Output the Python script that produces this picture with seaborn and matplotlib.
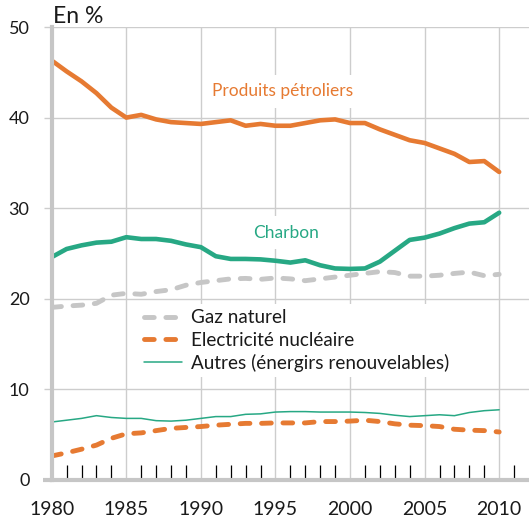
import numpy as np
import pandas as pd
import seaborn as sns
import matplotlib
matplotlib.use('Agg')
import matplotlib.pyplot as plt

years = list(range(1980, 2011))

petrole = [46.3, 45.1, 44.0, 42.7, 41.1, 40.0, 40.3, 39.8, 39.5, 39.4,
           39.3, 39.5, 39.7, 39.1, 39.3, 39.1, 39.1, 39.4, 39.7, 39.8,
           39.4, 39.4, 38.7, 38.1, 37.5, 37.2, 36.6, 36.0, 35.1, 35.2,
           34.0]
charbon = [24.6, 25.5, 25.9, 26.2, 26.3, 26.8, 26.6, 26.6, 26.4, 26.0,
           25.7, 24.7, 24.4, 24.4, 24.35, 24.2, 24.0, 24.25, 23.7, 23.35,
           23.3, 23.35, 24.1, 25.3, 26.5, 26.75, 27.2, 27.8, 28.3, 28.45,
           29.5]
gaz = [19.05, 19.2, 19.3, 19.5, 20.4, 20.6, 20.5, 20.8, 21.0, 21.5,
       21.8, 22.0, 22.2, 22.25, 22.15, 22.3, 22.2, 22.0, 22.2, 22.4,
       22.6, 22.8, 23.0, 22.9, 22.5, 22.5, 22.6, 22.8, 22.95, 22.55,
       22.7]
nucleaire = [2.65, 3.0, 3.4, 3.85, 4.6, 5.1, 5.2, 5.45, 5.7, 5.8,
             5.9, 6.05, 6.15, 6.25, 6.25, 6.3, 6.3, 6.3, 6.45, 6.45,
             6.5, 6.6, 6.45, 6.2, 6.05, 6.0, 5.9, 5.6, 5.5, 5.45,
             5.3]
autres = [6.4, 6.6, 6.8, 7.1, 6.9, 6.8, 6.8, 6.55, 6.5, 6.6,
          6.8, 7.0, 7.0, 7.25, 7.3, 7.5, 7.55, 7.55, 7.5, 7.5,
          7.5, 7.45, 7.35, 7.15, 7.0, 7.1, 7.2, 7.1, 7.45, 7.65,
          7.75]

x_major = list(range(1980, 2011, 5))
x_minor = [y for y in range(1981, 2012) if y % 5 != 0]
y_major = list(range(0, 51, 10))

orange = '#E67A32'
vert = '#27A884'
gris = '#C6C6C6'
grille = '#CDCDCD'

sns.set_style('white')
plt.rcParams['font.family'] = ['Lato', 'DejaVu Sans']

df = pd.DataFrame({'annee': years, 'petrole': petrole, 'charbon': charbon,
                   'gaz': gaz, 'nucleaire': nucleaire, 'autres': autres})

fig = plt.figure(figsize=(5.29, 5.22), dpi=100)
ax = fig.add_axes([51.7/529, 1-480/522, 1-51.7/529, (480-27)/522])

sns.lineplot(data=df, x='annee', y='petrole', ax=ax, color=orange, lw=3.3,
             solid_capstyle='round')
sns.lineplot(data=df, x='annee', y='charbon', ax=ax, color=vert, lw=3.3,
             solid_capstyle='round')
sns.lineplot(data=df, x='annee', y='gaz', ax=ax, color=gris, lw=3.5,
             label='Gaz naturel')
sns.lineplot(data=df, x='annee', y='nucleaire', ax=ax, color=orange, lw=3.5,
             label='Electricité nucléaire')
sns.lineplot(data=df, x='annee', y='autres', ax=ax, color=vert, lw=1.1,
             label='Autres (énergirs renouvelables)')

for ln in ax.lines[2:4]:
    ln.set_dashes((2.0, 2.4))
    ln.set_dash_capstyle('round')

ax.set_xlim(1980, 2012)
ax.set_ylim(0, 50)
ax.set_xticks(x_major)
ax.set_xticks(x_minor, minor=True)
ax.set_yticks(y_major)
ax.set_xlabel('')
ax.set_ylabel('')
ax.grid(True, which='major', color=grille, lw=1.0, zorder=0)
ax.set_axisbelow(True)

for s in ['top', 'right']:
    ax.spines[s].set_visible(False)
for s in ['left', 'bottom']:
    ax.spines[s].set_color(gris)
    ax.spines[s].set_linewidth(3)
    ax.spines[s].set_zorder(6)
ax.plot([-0.018, 0], [0, 0], transform=ax.transAxes, color=gris, lw=3,
        clip_on=False, solid_capstyle='butt')

ax.tick_params(axis='x', which='major', bottom=True, length=0, pad=15,
               labelsize=14, labelcolor='#1a1a1a')
ax.tick_params(axis='x', which='minor', bottom=True, direction='in',
               length=10.5, width=0.9, color='black')
ax.tick_params(axis='y', which='major', left=True, direction='out', length=6,
               width=1.0, color=grille, pad=10, labelsize=13,
               labelcolor='#1a1a1a')

boite = dict(boxstyle='square,pad=0.5', fc='white', ec='none')
ax.text(1995.5, 42.9, 'Produits pétroliers', color=orange, fontsize=12.5,
        ha='center', va='center', bbox=boite, zorder=3)
ax.text(1995.7, 27.3, 'Charbon', color=vert, fontsize=12.5,
        ha='center', va='center', bbox=boite, zorder=3)

ax.text(0.002, 1.009, 'En %', transform=ax.transAxes, fontsize=16.5,
        ha='left', va='baseline', color='#1a1a1a')

leg = ax.legend(loc='upper left', bbox_to_anchor=(0.181, 0.389),
                borderaxespad=0, frameon=True, fancybox=False,
                framealpha=1, edgecolor='none', fontsize=13.6,
                handlelength=2.0, handletextpad=0.5, labelspacing=0.27,
                borderpad=0.3)
leg.set_zorder(5)
for t in leg.get_texts():
    t.set_color('#1a1a1a')

fig.savefig('out.png', dpi=100)
